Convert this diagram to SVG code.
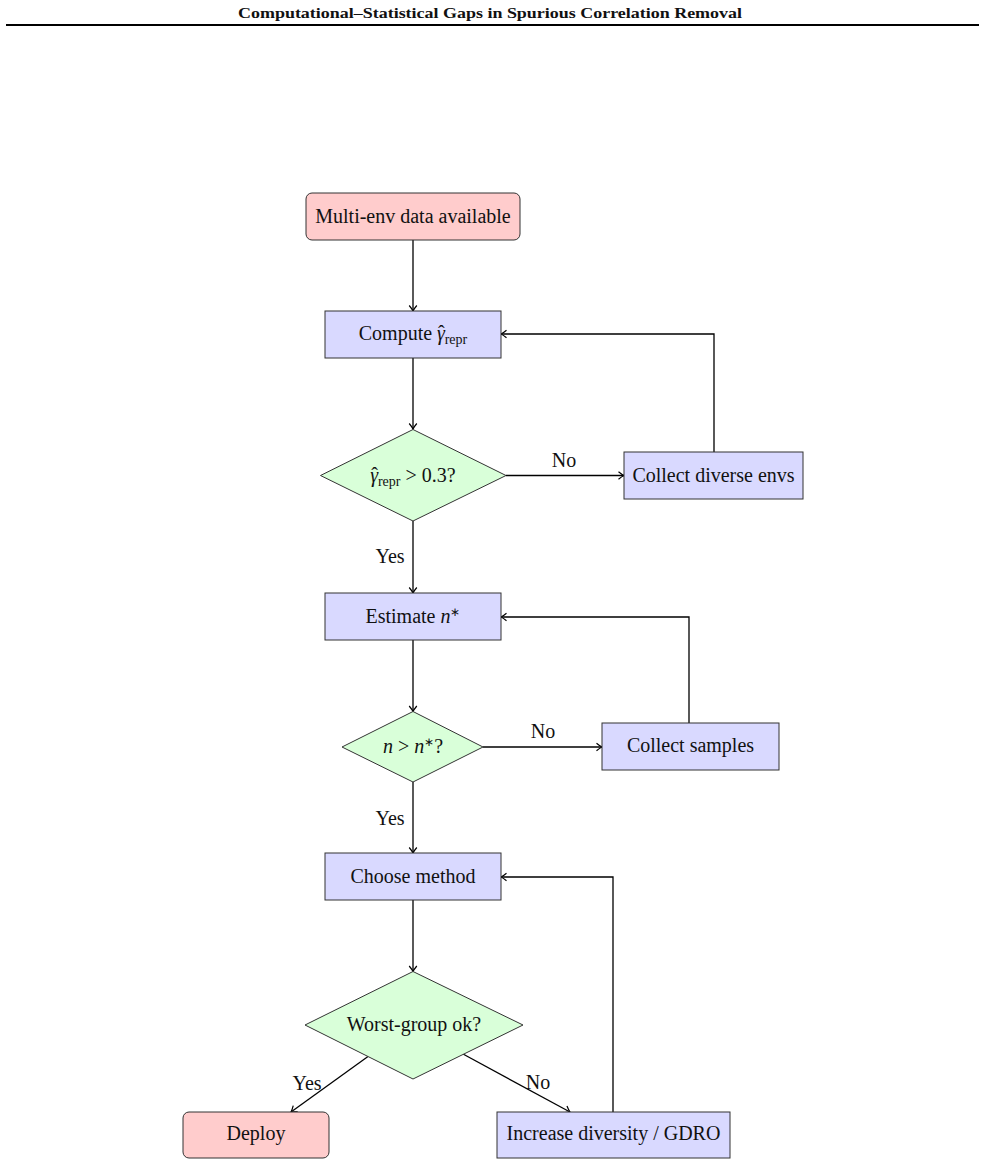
<svg xmlns="http://www.w3.org/2000/svg" width="985" height="1166" viewBox="0 0 985 1166">
<style>
.t{font-family:"Liberation Serif","Times New Roman",serif;font-size:20px;fill:#111}
.c{text-anchor:middle}
.sub{font-size:14px}
.sup{font-size:12px}
.lbl{font-family:"Liberation Serif","Times New Roman",serif;font-size:20px;fill:#111;text-anchor:middle}
.term{fill:#ffcccc;stroke:#333;stroke-width:1}
.proc{fill:#d9d9ff;stroke:#333;stroke-width:1}
.dec{fill:#d9ffd9;stroke:#333;stroke-width:1}
.ln{fill:none;stroke:#000;stroke-width:1.3;marker-end:url(#arr)}
</style>
<defs>
<marker id="arr" viewBox="-7 -5 8 10" refX="0" refY="0" markerWidth="8" markerHeight="10" orient="auto" markerUnits="userSpaceOnUse">
<path d="M-5.5,-3.8 Q-2,-0.9 0,0 Q-2,0.9 -5.5,3.8" fill="none" stroke="#000" stroke-width="1.2"/>
</marker>
</defs>
<rect width="985" height="1166" fill="#fff"/>
<text x="490" y="18" text-anchor="middle" font-family="'Liberation Serif','Times New Roman',serif" font-weight="bold" font-size="14.5" textLength="504" lengthAdjust="spacingAndGlyphs" fill="#111">Computational–Statistical Gaps in Spurious Correlation Removal</text>
<line x1="6" y1="25" x2="979" y2="25" stroke="#000" stroke-width="2"/>

<g id="connectors">
<path class="ln" d="M413,240 V311"/>
<path class="ln" d="M413,358 V429"/>
<path class="ln" d="M506,475.5 H624"/>
<path class="ln" d="M714,452 V334 H501"/>
<path class="ln" d="M413,521 V593"/>
<path class="ln" d="M413,640 V711.5"/>
<path class="ln" d="M483,747 H602"/>
<path class="ln" d="M689,723 V617 H501"/>
<path class="ln" d="M413,782 V853"/>
<path class="ln" d="M413,900 V971.5"/>
<path class="ln" d="M613,1112 V877 H501"/>
<path class="ln" d="M368,1056.5 L291,1112"/>
<path class="ln" d="M463,1054 L570,1112"/>
<text class="lbl" x="564" y="467">No</text>
<text class="lbl" x="390" y="563">Yes</text>
<text class="lbl" x="543" y="738">No</text>
<text class="lbl" x="390" y="825">Yes</text>
<text class="lbl" x="307" y="1090">Yes</text>
<text class="lbl" x="538" y="1089">No</text>
</g>

<g id="start">
<rect class="term" x="306" y="193" width="214" height="47" rx="6"/>
<text class="t c" x="413" y="223">Multi-env data available</text>
</g>

<g id="compute">
<rect class="proc" x="325" y="311" width="176" height="47"/>
<text class="t c" x="413" y="340">Compute <tspan font-style="italic">γ</tspan><tspan dx="-7">ˆ</tspan><tspan class="sub" dy="4">repr</tspan></text>
</g>

<g id="dec1">
<polygon class="dec" points="413,429.5 506,475.5 413,521 320.5,475.5"/>
<text class="t c" x="413" y="482"><tspan font-style="italic">γ</tspan><tspan dx="-7">ˆ</tspan><tspan class="sub" dy="4">repr</tspan><tspan dy="-4"> &gt; 0.3?</tspan></text>
</g>

<g id="collect-envs">
<rect class="proc" x="624" y="452" width="179" height="47"/>
<text class="t c" x="713.5" y="482">Collect diverse envs</text>
</g>

<g id="estimate">
<rect class="proc" x="325" y="593" width="176" height="47"/>
<text class="t c" x="413" y="623">Estimate <tspan font-style="italic">n</tspan><tspan class="sup" dy="-7">∗</tspan></text>
</g>

<g id="dec2">
<polygon class="dec" points="413,711.5 483,747 413,782 342,747"/>
<text class="t c" x="413" y="753"><tspan font-style="italic">n</tspan> &gt; <tspan font-style="italic">n</tspan><tspan class="sup" dy="-7">∗</tspan><tspan dy="7">?</tspan></text>
</g>

<g id="collect-samples">
<rect class="proc" x="602" y="723" width="177" height="47"/>
<text class="t c" x="690.5" y="752">Collect samples</text>
</g>

<g id="choose">
<rect class="proc" x="325" y="853" width="176" height="47"/>
<text class="t c" x="413" y="883">Choose method</text>
</g>

<g id="dec3">
<polygon class="dec" points="413,971.5 523,1025 413,1079 305,1025"/>
<text class="t c" x="414" y="1031">Worst-group ok?</text>
</g>

<g id="deploy">
<rect class="term" x="183" y="1112" width="146" height="46" rx="6"/>
<text class="t c" x="256" y="1140">Deploy</text>
</g>

<g id="increase">
<rect class="proc" x="497" y="1112" width="233" height="46"/>
<text class="t c" x="613.5" y="1140">Increase diversity / GDRO</text>
</g>
</svg>
